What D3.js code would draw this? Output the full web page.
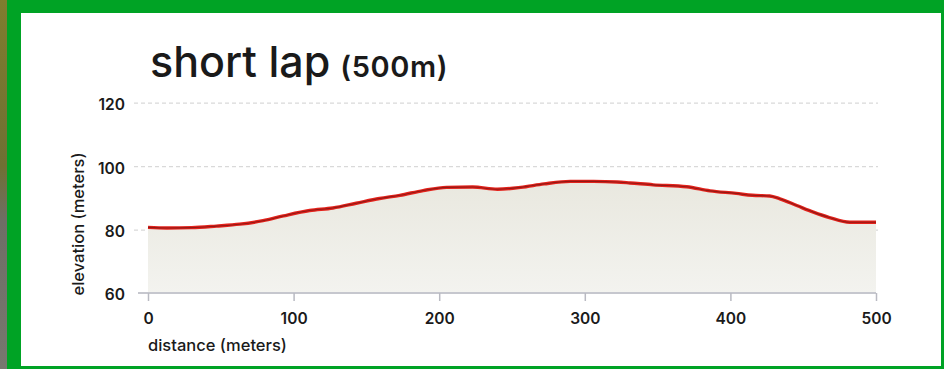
<!DOCTYPE html>
<html><head><meta charset="utf-8">
<script src="https://cdn.jsdelivr.net/npm/d3@7"></script>
<style>
html,body{margin:0;padding:0;background:#fff;}
svg{display:block;}
</style></head>
<body>
<svg id="c" width="944" height="369"></svg>
<script>
const distances = [0,13,30,47,63,79,93,111,127,143,159,173,189,205,223,240,256,272,290,306,322,331,347,370,386,404,415,427,434,446,457,468,482,500];
const elevations = [80.7,80.5,80.6,81.1,81.7,82.8,84.3,86.0,86.8,88.3,89.8,90.8,92.3,93.3,93.4,92.7,93.3,94.4,95.2,95.2,95.0,94.7,94.1,93.5,92.2,91.4,90.8,90.6,89.7,87.5,85.5,83.8,82.3,82.3];
const xTicks = [0,100,200,300,400,500];
const yTicks = [60,80,100,120];
const titleMain = "short lap";
const titleSub = "(500m)";
const xTitle = "distance (meters)";
const yTitle = "elevation (meters)";

const svg = d3.select("#c");
const W = 944, H = 369;
const FONT = "Inter, 'Open Sans', sans-serif";

// frame
const defs = svg.append("defs");
const photo = defs.append("linearGradient").attr("id","photo").attr("x1",0).attr("x2",0).attr("y1",0).attr("y2",1);
photo.append("stop").attr("offset","0%").attr("stop-color","#7f7d2e");
photo.append("stop").attr("offset","45%").attr("stop-color","#6f7033");
photo.append("stop").attr("offset","60%").attr("stop-color","#6e6e66");
photo.append("stop").attr("offset","100%").attr("stop-color","#77776f");
svg.append("rect").attr("x",0).attr("y",0).attr("width",W).attr("height",H).attr("fill","#00a325");
svg.append("rect").attr("x",0).attr("y",0).attr("width",7).attr("height",H).attr("fill","url(#photo)");
svg.append("rect").attr("x",21).attr("y",13).attr("width",920).attr("height",353).attr("fill","#ffffff");

const x = d3.scaleLinear().domain([0,500]).range([148,876]);
const y = d3.scaleLinear().domain([60,120]).range([293,102.7]);

// fill gradient
const fg = defs.append("linearGradient").attr("id","fillg").attr("x1",0).attr("x2",0).attr("y1",0).attr("y2",1);
fg.append("stop").attr("offset","0%").attr("stop-color","#e9e8df");
fg.append("stop").attr("offset","100%").attr("stop-color","#f3f3ef");

// y axis with gridlines
const gy = svg.append("g").attr("transform",`translate(${x(0)-14},0)`)
  .call(d3.axisLeft(y).tickValues(yTicks).tickSize(-(x(500)-x(0)+16)).tickPadding(9).tickFormat(d3.format("d")));
gy.select(".domain").remove();
gy.selectAll(".tick line").attr("stroke","#d9d9d9").attr("stroke-width",1.3).attr("stroke-dasharray","4,3")
  .filter(d=>d===60).remove();
gy.selectAll(".tick text").attr("font-family",FONT).attr("font-size",15.5).attr("font-weight",600).attr("fill","#1a1a1a").attr("dy","0.45em");

const data = distances.map((d,i)=>({d, e: elevations[i]}));
const curve = d3.curveMonotoneX;
const area = d3.area().x(p=>x(p.d)).y0(y(60)).y1(p=>y(p.e)).curve(curve);
const line = d3.line().x(p=>x(p.d)).y(p=>y(p.e)).curve(curve);
svg.append("path").datum(data).attr("d",area).attr("fill","url(#fillg)");

// x axis
svg.append("line").attr("x1",x(0)-10).attr("x2",x(500)).attr("y1",y(60)).attr("y2",y(60))
  .attr("stroke","#c6c7ce").attr("stroke-width",2);
const gx = svg.append("g").attr("transform",`translate(0,${y(60)})`)
  .call(d3.axisBottom(x).tickValues(xTicks).tickSize(8).tickPadding(12).tickFormat(d3.format("d")));
gx.select(".domain").remove();
gx.selectAll(".tick line").attr("stroke","#b9bac2").attr("stroke-width",1.5);
gx.selectAll(".tick text").attr("font-family",FONT).attr("font-size",15.5).attr("font-weight",600).attr("fill","#1a1a1a");

// line
svg.append("path").datum(data).attr("d",line).attr("fill","none").attr("stroke","#e3221b").attr("stroke-width",3.4).attr("stroke-linejoin","round");
svg.append("path").datum(data).attr("d",line).attr("fill","none").attr("stroke","#5b1212").attr("stroke-width",1.1).attr("stroke-opacity",0.6);

// titles
const t = svg.append("text").attr("x",150).attr("y",77).attr("font-family",FONT).attr("fill","#1a1a1a");
t.append("tspan").attr("font-size",43).attr("font-weight",500).text(titleMain);
t.append("tspan").attr("dx",10).attr("font-size",29).attr("font-weight",600).attr("letter-spacing",0.6).text(titleSub);

svg.append("text").attr("x",148).attr("y",351).attr("font-family",FONT).attr("font-size",16.5).attr("font-weight",500).attr("fill","#1a1a1a").text(xTitle);
svg.append("text").attr("transform",`translate(84,224) rotate(-90)`).attr("text-anchor","middle")
  .attr("font-family",FONT).attr("font-size",16.5).attr("font-weight",500).attr("fill","#1a1a1a").text(yTitle);
</script>
</body></html>
